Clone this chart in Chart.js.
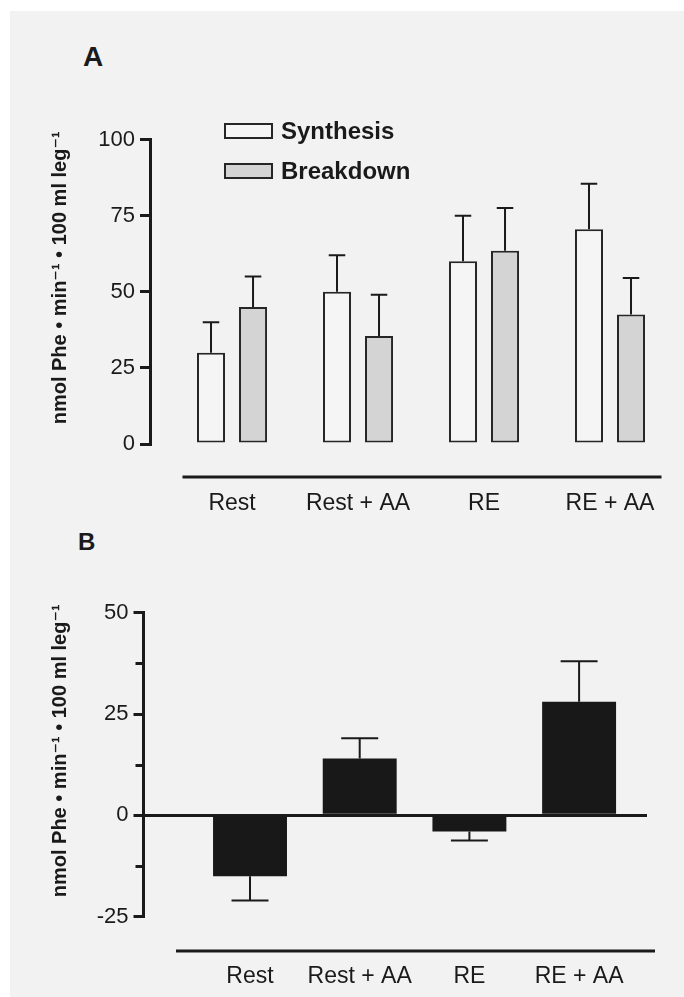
<!DOCTYPE html>
<html>
<head>
<meta charset="utf-8">
<script src="https://cdn.jsdelivr.net/npm/chart.js@4.4.1/dist/chart.umd.min.js"></script>
<style>
  body { margin: 0; background: #fff; width: 684px; height: 997px; position: relative; overflow: hidden;
         font-family: 'Liberation Sans', Arial, sans-serif; color: #1a1a1a; }
  #paper { position: absolute; left: 10px; top: 11px; right: 0; bottom: 0; background: #f2f2f2; }
  canvas { position: absolute; left: 0; }
  .panel { position: absolute; font-weight: bold; line-height: 1; }
  .item { position: absolute; height: 24px; line-height: 24px; font-size: 24px; font-weight: bold; white-space: nowrap; }
  .swatch { position: absolute; width: 45px; height: 12px; border: 2px solid #262626; }
</style>
</head>
<body>
<div id="paper"></div>
<div class="panel" style="left:83px; top:43px; font-size:28px;">A</div>
<div class="panel" style="left:78px; top:530px; font-size:24px;">B</div>
<canvas id="chartA" width="684" height="520" style="top:0"></canvas>
<canvas id="chartB" width="684" height="477" style="top:520px"></canvas>
<div id="legend"></div>
<script>
// data
const categories = ['Rest', 'Rest + AA', 'RE', 'RE + AA'];
const synthesis = [30, 50, 60, 70.5];
const synthesisSem = [10, 12, 15, 15];
const breakdown = [45, 35.5, 63.5, 42.5];
const breakdownSem = [10, 13.5, 14, 12];
const netBalance = [-15, 14, -4, 28];
const netBalanceSem = [6, 5, 2.2, 10];
const ticksA = [0, 25, 50, 75, 100];
const ticksB = [-25, 0, 25, 50];
const minorTicksB = [-12.5, 12.5, 37.5];

const ink = '#1a1a1a';
const fam = "'Liberation Sans', Arial, 'DejaVu Sans', sans-serif";
const yTitle = '     nmol Phe \u2022 min\u207B\u00B9 \u2022 100 ml leg\u207B\u00B9';

const points = (vals) => vals.map((v, i) => ({ x: i, y: v }));

// error bars, minor ticks and the detached category line
const prismAxes = {
  id: 'prismAxes',
  afterDatasetsDraw(chart, args, opts) {
    const { ctx, chartArea, scales: { y } } = chart;
    ctx.save();
    ctx.strokeStyle = ink;
    chart.data.datasets.forEach((ds, d) => {
      const meta = chart.getDatasetMeta(d);
      meta.data.forEach((bar, i) => {
        const v = ds.data[i].y;
        const e = ds.errors[i];
        const end = y.getPixelForValue(v < 0 ? v - e : v + e);
        const half = bar.width * opts.capRatio / 2;
        ctx.lineWidth = 2;
        ctx.beginPath();
        ctx.moveTo(bar.x, bar.y);
        ctx.lineTo(bar.x, end);
        ctx.moveTo(bar.x - half, end);
        ctx.lineTo(bar.x + half, end);
        ctx.stroke();
      });
    });
    ctx.lineWidth = 3;
    (opts.minorTicks || []).forEach(v => {
      const py = Math.round(y.getPixelForValue(v)) + 0.5;
      ctx.beginPath();
      ctx.moveTo(chartArea.left - 1.5, py);
      ctx.lineTo(chartArea.left - 8, py);
      ctx.stroke();
    });
    const by = chartArea.bottom + opts.baseline.dy;
    ctx.beginPath();
    ctx.moveTo(chartArea.left + opts.baseline.left, by);
    ctx.lineTo(chartArea.right + opts.baseline.right, by);
    ctx.stroke();
    ctx.restore();
  }
};

function xAxis(min, max, height, pad) {
  return {
    type: 'linear', min: min, max: max, offset: false,
    afterFit: (s) => { s.height = height; s.paddingLeft = 0; s.paddingRight = 0; },
    afterBuildTicks: (s) => { s.ticks = categories.map((c, i) => ({ value: i })); },
    grid: { display: false },
    border: { display: false },
    ticks: { autoSkip: false, maxRotation: 0, padding: pad, color: ink,
             font: { size: 23, family: fam },
             callback: (v) => categories[v] ?? '' }
  };
}

function yAxis(ticks, width, gridColor) {
  return {
    min: ticks[0], max: ticks[ticks.length - 1],
    afterFit: (s) => { s.width = width; },
    afterBuildTicks: (s) => { s.ticks = ticks.map(v => ({ value: v })); },
    border: { display: true, width: 3, color: ink },
    grid: { drawOnChartArea: gridColor !== null, color: gridColor || ink, lineWidth: 3,
            tickColor: ink, tickWidth: 3, tickLength: 10 },
    ticks: { padding: 5, color: ink, font: { size: 22, family: fam } },
    title: { display: true, text: yTitle, color: ink,
             font: { size: 20, weight: 'bold', family: fam }, padding: { top: 48, bottom: 0 } }
  };
}

const chartA = new Chart(document.getElementById('chartA'), {
  type: 'bar',
  data: {
    datasets: [
      { label: 'Synthesis', data: points(synthesis), errors: synthesisSem,
        backgroundColor: '#f5f5f5', borderColor: '#262626', borderWidth: 2, borderSkipped: false },
      { label: 'Breakdown', data: points(breakdown), errors: breakdownSem,
        backgroundColor: '#d4d4d4', borderColor: '#262626', borderWidth: 2, borderSkipped: false }
    ]
  },
  options: {
    responsive: false, animation: false,
    datasets: { bar: { categoryPercentage: 0.667, barPercentage: 0.667 } },
    layout: { padding: { top: 139.5, right: 11, bottom: 0, left: 0 } },
    plugins: {
      legend: { display: false }, tooltip: { enabled: false },
      prismAxes: { capRatio: 0.59, baseline: { dy: 33, left: 32.5, right: -11.5 } }
    },
    scales: { x: xAxis(-0.651, 3.5, 76, 38), y: yAxis(ticksA, 150, null) }
  },
  plugins: [prismAxes]
});

new Chart(document.getElementById('chartB'), {
  type: 'bar',
  data: {
    datasets: [
      { label: 'Net balance', data: points(netBalance), errors: netBalanceSem,
        backgroundColor: '#181818', borderWidth: 0 }
    ]
  },
  options: {
    responsive: false, animation: false,
    datasets: { bar: { categoryPercentage: 0.674, barPercentage: 1 } },
    layout: { padding: { top: 92.7, right: 37, bottom: 0, left: 0 } },
    plugins: {
      legend: { display: false }, tooltip: { enabled: false },
      prismAxes: { capRatio: 0.5, minorTicks: minorTicksB, baseline: { dy: 34.3, left: 32.5, right: 8 } }
    },
    scales: {
      x: xAxis(-0.971, 3.619, 80.3, 38.5),
      y: yAxis(ticksB, 143.5, (c) => (c.tick && c.tick.value === 0) ? ink : 'rgba(0,0,0,0)')
    }
  },
  plugins: [prismAxes]
});

// legend for panel A, placed over the plot like the original
const legendTops = [119, 159];
const legend = document.getElementById('legend');
chartA.data.datasets.forEach((ds, i) => {
  const sw = document.createElement('div');
  sw.className = 'swatch';
  sw.style.left = '224px';
  sw.style.top = (legendTops[i] + 4) + 'px';
  sw.style.background = ds.backgroundColor;
  legend.appendChild(sw);
  const t = document.createElement('div');
  t.className = 'item';
  t.style.left = '281px';
  t.style.top = legendTops[i] + 'px';
  t.textContent = ds.label;
  legend.appendChild(t);
});
</script>
</body>
</html>
